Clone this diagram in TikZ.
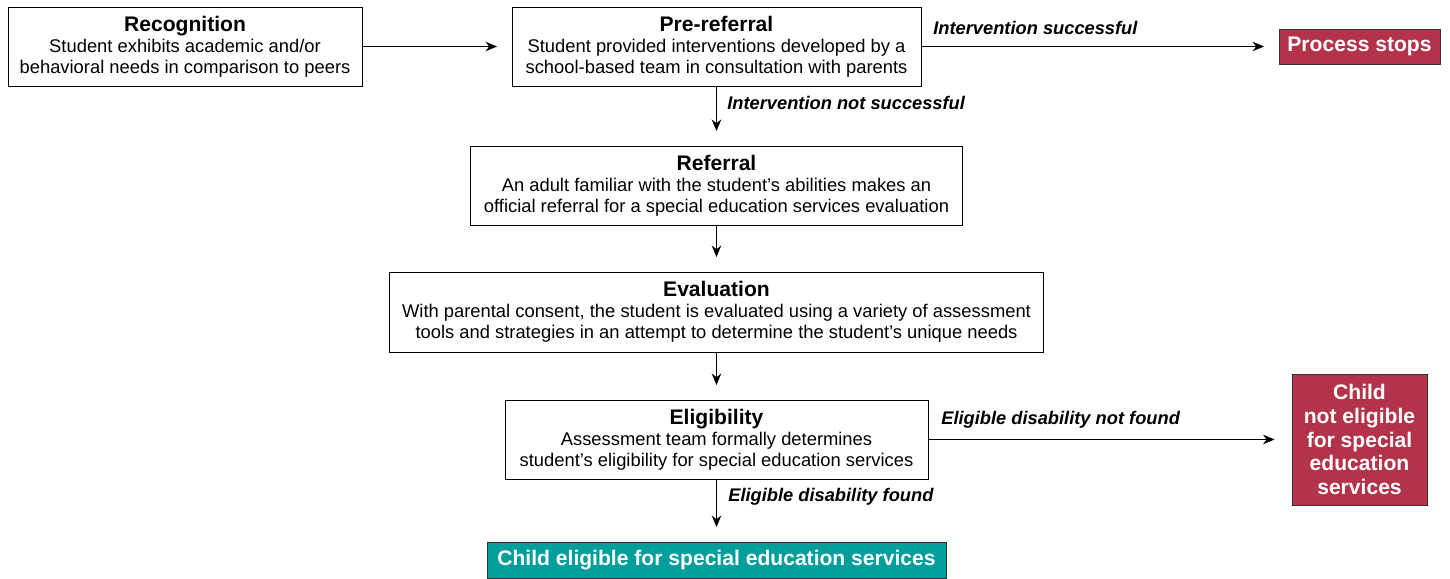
\documentclass[tikz,border=0pt]{standalone}
\usepackage{fontspec}
\setsansfont{Liberation Sans}
\usetikzlibrary{arrows.meta,positioning}

\definecolor{stopred}{HTML}{B4334A}
\definecolor{goteal}{HTML}{009E9A}

\begin{document}
\begin{tikzpicture}[>={Stealth[length=2.3mm,width=1.9mm]},font=\sffamily,
    stage/.style={draw=black,line width=0.55pt,fill=white,align=center,inner sep=0pt,
        font=\sffamily\fontsize{10.45}{11.9}\selectfont},
    outcome/.style={draw=black!80,line width=0.55pt,text=white,align=center,inner sep=0pt,
        font=\sffamily\bfseries\fontsize{12}{13.6}\selectfont},
    lbl/.style={anchor=west,inner sep=0pt,font=\sffamily\bfseries\itshape\fontsize{10.4}{12}\selectfont},
    flow/.style={->,line width=0.6pt,shorten >=0.29cm}]

    % Canvas
    \useasboundingbox (0,0) rectangle (29,-11.58);

    % Top row
    \node [stage,minimum width=7.08cm,minimum height=1.58cm] (recog) at (3.70,-0.93)
        {{\fontsize{12}{14}\selectfont\bfseries Recognition}\\Student exhibits academic and/or\\behavioral needs in comparison to peers};
    \node [stage,minimum width=8.18cm,minimum height=1.58cm] (preref) at (14.33,-0.93)
        {{\fontsize{12}{14}\selectfont\bfseries Pre-referral}\\Student provided interventions developed by a\\school-based team in consultation with parents};
    \node [outcome,fill=stopred,minimum width=3.22cm,minimum height=0.70cm] (stops) at (27.19,-0.93)
        {Process stops};

    % Middle column
    \node [stage,minimum width=9.84cm,minimum height=1.58cm] (referral) at (14.33,-3.71)
        {{\fontsize{12}{14}\selectfont\bfseries Referral}\\An adult familiar with the student’s abilities makes an\\official referral for a special education services evaluation};
    \node [stage,minimum width=13.08cm,minimum height=1.60cm] (eval) at (14.33,-6.24)
        {{\fontsize{12}{14}\selectfont\bfseries Evaluation}\\With parental consent, the student is evaluated using a variety of assessment\\tools and strategies in an attempt to determine the student’s unique needs};
    \node [stage,minimum width=8.46cm,minimum height=1.58cm] (elig) at (14.33,-8.79)
        {{\fontsize{12}{14}\selectfont\bfseries Eligibility}\\Assessment team formally determines\\student’s eligibility for special education services};

    % Outcomes
    \node [outcome,fill=stopred,minimum width=2.70cm,minimum height=2.62cm] (noteligible) at (27.19,-8.79)
        {Child\\not eligible\\for special\\education\\services};
    \node [outcome,fill=goteal,minimum width=9.18cm,minimum height=0.72cm] (eligible) at (14.33,-11.2)
        {Child eligible for special education services};

    % Connectors
    \draw [flow] (recog) -- (preref);
    \draw [flow] (preref) -- (stops);
    \draw [flow] (preref) -- (referral);
    \draw [flow] (referral) -- (eval);
    \draw [flow] (eval) -- (elig);
    \draw [flow,shorten >=0.34cm] (elig) -- (noteligible);
    \draw [flow] (elig) -- (eligible);

    % Connector labels
    \node [lbl] (lsucc) at (18.66,-0.56) {Intervention successful};
    \node [lbl] (lnotsucc) at (14.54,-2.06) {Intervention not successful};
    \node [lbl] (lnotfound) at (18.82,-8.40) {Eligible disability not found};
    \node [lbl] (lfound) at (14.56,-9.94) {Eligible disability found};

\end{tikzpicture}
\end{document}
